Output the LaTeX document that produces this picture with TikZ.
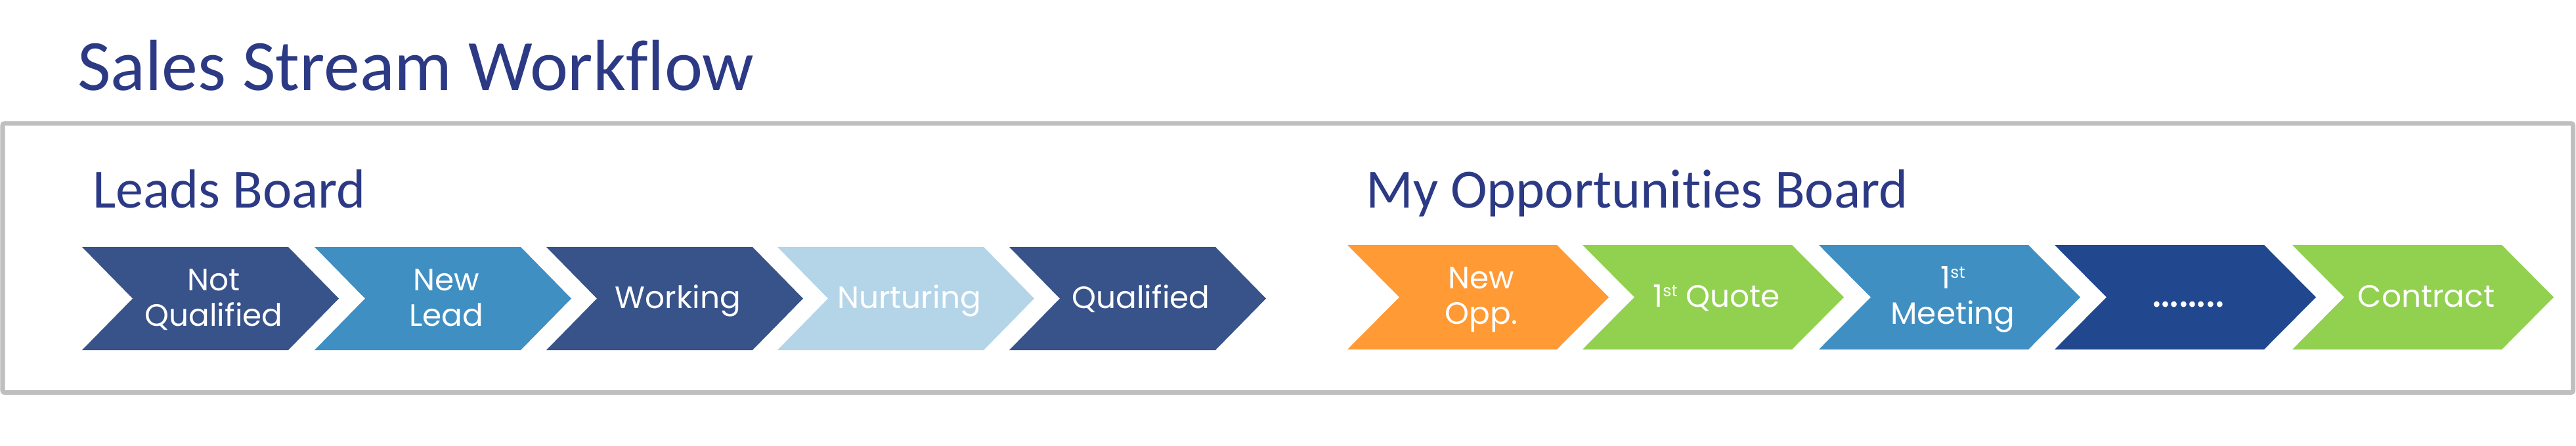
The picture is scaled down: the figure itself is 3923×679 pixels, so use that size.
\documentclass[tikz,border=0pt]{standalone}
\usepackage{fontspec}
\setmainfont{Carlito}[Ligatures=NoCommon]
\newfontfamily\chevfont{Poppins}
\definecolor{titleblue}{HTML}{2C3A85}
\definecolor{framegray}{HTML}{BFBFBF}
\definecolor{navy}{HTML}{38528A}
\definecolor{midblue}{HTML}{3F8FC2}
\definecolor{lightblue}{HTML}{B4D4E8}
\definecolor{opporange}{HTML}{FF9A35}
\definecolor{oppgreen}{HTML}{92D050}
\definecolor{deepblue}{HTML}{21488F}
\newcommand\sts{\raisebox{16pt}{\fontsize{25}{25}\selectfont st}}
% #1 name, #2 left x, #3 top y, #4 bottom y, #5 colour, #6 text, #7 baseline offset (last line) from middle
\newcommand\chevron[7]{%
  \pgfmathsetmacro\cmid{(#3+#4)/2}%
  \fill[#5] (#2,#3) -- ({#2+\cw-\cd},#3) -- ({#2+\cw},\cmid) -- ({#2+\cw-\cd},#4)
     -- (#2,#4) -- ({#2+\cd},\cmid) -- cycle;
  \node[chevtext] (#1) at ({#2+\cw/2+5},{\cmid+#7}) {#6};
}
\tikzset{
  chevtext/.style={anchor=base, inner sep=0pt, text=white, align=center,
    font=\chevfont\fontsize{47}{54}\selectfont},
  heading/.style={anchor=base west, inner sep=0pt, text=titleblue}
}
\begin{document}
\begin{tikzpicture}[x=1pt,y=-1pt]
\useasboundingbox (0,0) rectangle (3923,679);
\node[heading, font=\fontsize{110}{120}\selectfont] (title) at (118,138) {Sales Stream Workflow};
\draw[framegray, line width=7pt, rounded corners=3pt] (4,188) rectangle (3918.5,597.5);
\node[heading, font=\fontsize{84}{92}\selectfont] (leads) at (141,316) {Leads Board};
\node[heading, font=\fontsize{84}{92}\selectfont] (opps) at (2080,316) {My Opportunities Board};
% row 1
\def\cw{391}\def\cd{77}
\chevron{notq}{125}{376}{533}{navy}{Not\\Qualified}{41.5}
\chevron{newlead}{479}{376}{533}{midblue}{New\\Lead}{41.5}
\chevron{working}{832}{376}{533}{navy}{Working}{15}
\chevron{nurt}{1184}{376}{533}{lightblue}{Nurturing}{15}
\chevron{qual}{1537}{376}{533}{navy}{Qualified}{15}
% row 2
\def\cw{398}\def\cd{79}
\chevron{newopp}{2052}{373}{532}{opporange}{New\\Opp.}{40.5}
\chevron{quote}{2410}{373}{532}{oppgreen}{1\sts{} Quote}{14.5}
\chevron{meet}{2770}{373}{532}{midblue}{1\sts\\Meeting}{40.5}
\chevron{dots}{3129}{373}{532}{deepblue}{{\fontsize{70}{70}\selectfont ……..}}{14.5}
\chevron{contract}{3491}{373}{532}{oppgreen}{Contract}{14.5}
\end{tikzpicture}
\end{document}
